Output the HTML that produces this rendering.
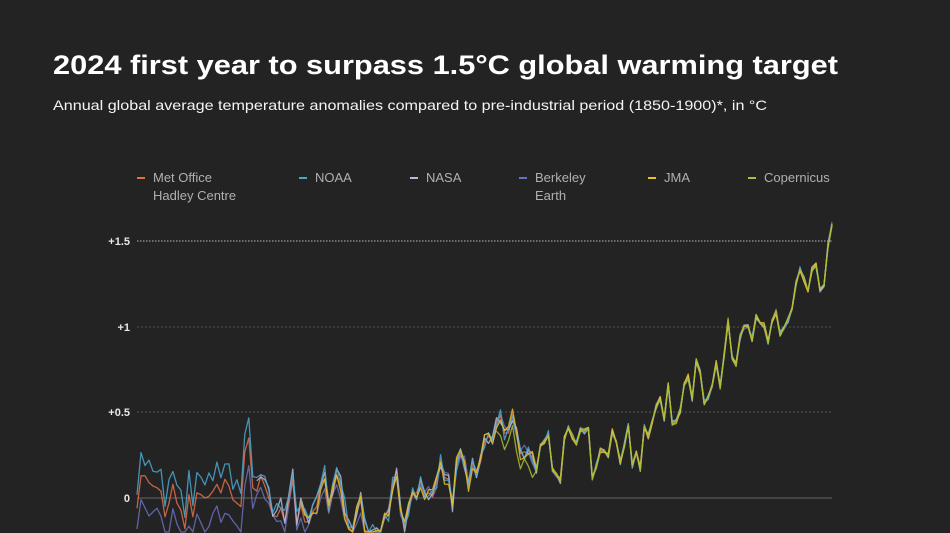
<!DOCTYPE html>
<html><head><meta charset="utf-8"><style>
html,body{margin:0;padding:0;background:#232323;width:950px;height:533px;overflow:hidden;}
body{position:relative;font-family:"Liberation Sans",sans-serif;}
svg{display:block;}
</style></head><body>
<svg id="s" width="950" height="533" viewBox="0 0 950 533" xmlns="http://www.w3.org/2000/svg" style="position:absolute;left:0;top:0;overflow:hidden">
<rect width="950" height="533" fill="#232323"/>
<text x="53" y="74" fill="#ffffff" font-size="27" font-weight="bold" textLength="785" lengthAdjust="spacingAndGlyphs">2024 first year to surpass 1.5°C global warming target</text>
<text x="53" y="110" fill="#f4f4f4" font-size="14" textLength="714" lengthAdjust="spacingAndGlyphs">Annual global average temperature anomalies compared to pre-industrial period (1850-1900)*, in °C</text>
<g font-size="13" fill="#b0b0b0">
<rect x="137" y="177" width="8" height="2" fill="#e0704a"/><text x="153" y="182">Met Office</text><text x="153" y="200">Hadley Centre</text>
<rect x="299" y="177" width="8" height="2" fill="#4aa8d0"/><text x="315" y="182">NOAA</text>
<rect x="410" y="177" width="8" height="2" fill="#b8b8d8"/><text x="426" y="182">NASA</text>
<rect x="519" y="177" width="8" height="2" fill="#6a70c0"/><text x="535" y="182">Berkeley</text><text x="535" y="200">Earth</text>
<rect x="648" y="177" width="8" height="2" fill="#e8c020"/><text x="664" y="182">JMA</text>
<rect x="748" y="177" width="8" height="2" fill="#a8c030"/><text x="764" y="182">Copernicus</text>
</g>
<g font-size="11" font-weight="bold" fill="#e8e8e8" text-anchor="end">
<text x="130" y="245">+1.5</text><text x="130" y="331">+1</text><text x="130" y="416">+0.5</text><text x="130" y="502">0</text>
</g>
<line x1="137" y1="241" x2="832" y2="241" stroke="#bbbbbb" stroke-dasharray="1.5,1.5" stroke-width="1"/>
<line x1="137" y1="327" x2="832" y2="327" stroke="#555" stroke-dasharray="2,2"/>
<line x1="137" y1="412" x2="832" y2="412" stroke="#555" stroke-dasharray="2,2"/>
<line x1="137" y1="498" x2="832" y2="498" stroke="#666" stroke-width="1"/>
<g id="lines" fill="none" stroke-width="1.3" stroke-linejoin="round"></g>
</svg>
<script>
var h=[-0.42,-0.23,-0.23,-0.27,-0.29,-0.30,-0.32,-0.47,-0.39,-0.28,-0.39,-0.43,-0.54,-0.34,-0.47,-0.33,-0.34,-0.36,-0.35,-0.32,-0.28,-0.33,-0.25,-0.29,-0.37,-0.39,-0.41,-0.09,-0.01,-0.30,-0.32,-0.23,-0.29,-0.36,-0.46,-0.47,-0.42,-0.50,-0.38,-0.25,-0.51,-0.40,-0.50,-0.50,-0.44,-0.41,-0.28,-0.25,-0.44,-0.33,-0.23,-0.29,-0.44,-0.53,-0.60,-0.45,-0.37,-0.55,-0.58,-0.59,-0.56,-0.59,-0.48,-0.46,-0.28,-0.20,-0.43,-0.53,-0.43,-0.34,-0.33,-0.26,-0.35,-0.33,-0.35,-0.26,-0.14,-0.24,-0.25,-0.40,-0.16,-0.11,-0.15,-0.29,-0.15,-0.20,-0.15,-0.03,0.00,-0.02,0.09,0.12,0.02,0.02,0.13,0.03,-0.10,-0.09,-0.10,-0.12,-0.20,-0.06,-0.03,0.02,-0.19,-0.23,-0.26,-0.01,0.05,0.00,-0.04,0.04,0.03,0.04,-0.24,-0.17,-0.08,-0.09,-0.11,0.03,-0.04,-0.15,-0.05,0.07,-0.17,-0.10,-0.19,0.06,0.00,0.09,0.18,0.22,0.09,0.31,0.08,0.09,0.15,0.30,0.35,0.22,0.44,0.38,0.20,0.23,0.29,0.43,0.29,0.48,0.68,0.46,0.42,0.58,0.64,0.65,0.57,0.70,0.66,0.65,0.55,0.67,0.73,0.60,0.64,0.68,0.74,0.90,0.98,0.92,0.85,0.98,1.00,0.85,0.89,1.12,1.24];
var series=[
 {c:"#6a70c0",s:1850,off:function(i){return i<30?-0.16:(i<60?-0.04:0);},n:1.3},
 {c:"#e0704a",s:1850,off:function(i){return 0;},n:0},
 {c:"#b8b8d8",s:1880,off:function(i){return i<60?0.03:0;},n:2.1},
 {c:"#4aa8d0",s:1850,off:function(i){return i<30?0.1:(i<60?0.04:0);},n:3.7},
 {c:"#e8c020",s:1891,off:function(i){return 0;},n:5.3},
 {c:"#a8c030",s:1940,off:function(i){return i<100?-0.08:0;},n:7.9}
];
var g=document.getElementById("lines");
series.forEach(function(se){
 var d="";
 for(var y=se.s;y<=2024;y++){
  var i=y-1850;
  var amp=i<100?0.04:0.015;
  var v=h[i]+0.36+se.off(i)+(se.n?amp*Math.sin(i*se.n+se.n):0);
  var x=137+i*(695/174);
  var yy=Math.min(532,498-v*171);
  d+=(d?"L":"M")+x.toFixed(1)+","+yy.toFixed(1);
 }
 var p=document.createElementNS("http://www.w3.org/2000/svg","path");
 p.setAttribute("d",d);p.setAttribute("stroke",se.c);p.setAttribute("opacity","0.85");
 g.appendChild(p);
});
</script>
</body></html>
